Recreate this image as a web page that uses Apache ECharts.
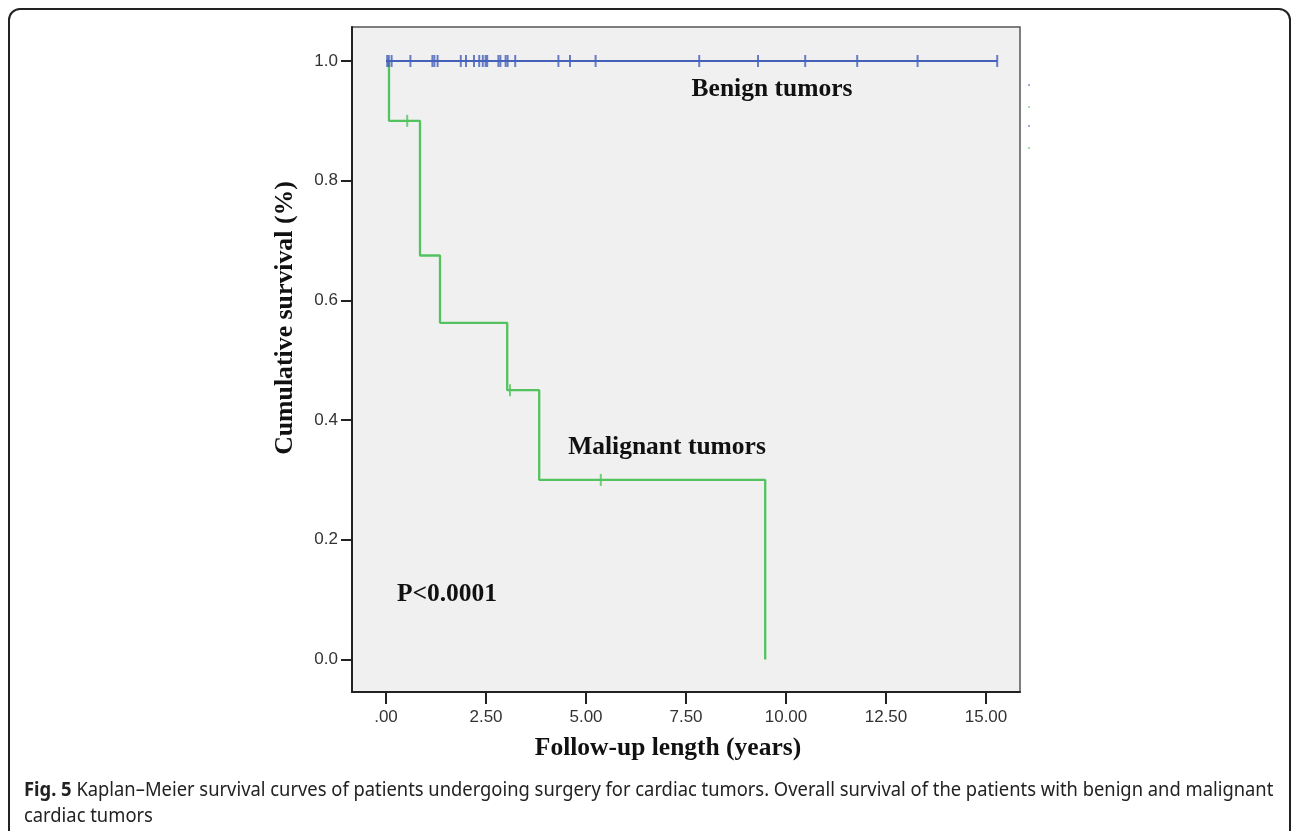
<!DOCTYPE html>
<html>
<head>
<meta charset="utf-8">
<script src="https://cdn.jsdelivr.net/npm/echarts@6/dist/echarts.min.js"></script>
<style>
html,body{margin:0;padding:0;background:#fff;}
#chart{width:1292px;height:831px;}
</style>
</head>
<body>
<div id="chart"></div>
<script>
// ---- data ----
const xTicks = [0, 2.5, 5, 7.5, 10, 12.5, 15];
const yTicks = [0, 0.2, 0.4, 0.6, 0.8, 1.0];
const benignCensorTimes = [0.03, 0.07, 0.14, 0.61, 1.16, 1.21, 1.29, 1.87, 2.0, 2.2, 2.33, 2.42, 2.49, 2.53, 2.81, 2.86, 2.99, 3.04, 3.23, 4.31, 4.6, 5.24, 7.83, 9.3, 10.48, 11.78, 13.29, 15.28];
const benignLineTimes = [0, 15.28];
const benignLineSurv = [1.0, 1.0];
const malignantTimes = [0, 0.075, 0.85, 1.35, 3.03, 3.83, 9.48];
const malignantSurv = [1.0, 0.9, 0.675, 0.5625, 0.45, 0.30, 0.0];
const malignantCensorTimes = [0.53, 3.1, 5.37];
const malignantCensorSurv = [0.9, 0.45, 0.30];

const BLUE = '#4560b8';
const GREEN = '#52c35e';
const SERIF = '"Liberation Serif", "Times New Roman", serif';

const chart = echarts.init(document.getElementById('chart'));

const fmtX = v => {
  const s = Number(v).toFixed(2);
  return s.startsWith('0') ? s.slice(1) : s;
};

chart.setOption({
  animation: false,
  grid: {
    left: 352, top: 27, width: 668, height: 665,
    show: true, backgroundColor: '#f0f0f0', borderColor: '#555', borderWidth: 1.5
  },
  xAxis: {
    type: 'value', min: -0.85, max: 15.85,
    splitLine: { show: false },
    axisLine: { onZero: false, lineStyle: { color: '#222', width: 2 } },
    axisTick: { customValues: xTicks, length: 12, lineStyle: { color: '#222', width: 2 } },
    axisLabel: { customValues: xTicks, formatter: fmtX, margin: 17, color: '#333', fontSize: 17, fontFamily: 'Liberation Sans, Arial, sans-serif' }
  },
  yAxis: {
    type: 'value', min: -0.0543, max: 1.0568,
    splitLine: { show: false },
    axisLine: { onZero: false, lineStyle: { color: '#222', width: 2 } },
    axisTick: { customValues: yTicks, length: 11, lineStyle: { color: '#222', width: 2 } },
    axisLabel: { customValues: yTicks, formatter: v => Number(v).toFixed(1), margin: 14, color: '#333', fontSize: 17, fontFamily: 'Liberation Sans, Arial, sans-serif' }
  },
  series: [
    {
      type: 'line', name: 'Benign', showSymbol: false,
      data: benignLineTimes.map((t, i) => [t, benignLineSurv[i]]),
      lineStyle: { color: BLUE, width: 2.2 }, z: 3
    },
    {
      type: 'scatter', name: 'Benign censored',
      data: benignCensorTimes.map(t => [t, 1.0]),
      symbol: 'rect', symbolSize: [2, 12],
      itemStyle: { color: BLUE }, z: 4
    },
    {
      type: 'line', name: 'Malignant', step: 'end', showSymbol: false,
      data: malignantTimes.map((t, i) => [t, malignantSurv[i]]),
      lineStyle: { color: GREEN, width: 2.3 }, z: 2
    },
    {
      type: 'scatter', name: 'Malignant censored',
      data: malignantCensorTimes.map((t, i) => [t, malignantCensorSurv[i]]),
      symbol: 'rect', symbolSize: [2, 12],
      itemStyle: { color: GREEN }, z: 4
    }
  ],
  graphic: [
    { type: 'rect', shape: { x: 9, y: 9, width: 1281, height: 860, r: 11 },
      style: { fill: 'none', stroke: '#222', lineWidth: 2 }, silent: true, z: 0 },
    // faint legend remnants to the right of the plot
    { type: 'circle', shape: { cx: 1029, cy: 85, r: 1 }, style: { fill: BLUE, opacity: 0.7 }, silent: true },
    { type: 'circle', shape: { cx: 1029, cy: 107, r: 1 }, style: { fill: GREEN, opacity: 0.7 }, silent: true },
    { type: 'circle', shape: { cx: 1029, cy: 126, r: 1 }, style: { fill: BLUE, opacity: 0.7 }, silent: true },
    { type: 'circle', shape: { cx: 1029, cy: 148, r: 1 }, style: { fill: GREEN, opacity: 0.7 }, silent: true },
    { type: 'text', x: 772, y: 89, style: { text: 'Benign tumors', align: 'center', verticalAlign: 'middle',
      font: 'bold 25.5px ' + SERIF, fill: '#111' }, z: 10 },
    { type: 'text', x: 667, y: 447, style: { text: 'Malignant tumors', align: 'center', verticalAlign: 'middle',
      font: 'bold 25.5px ' + SERIF, fill: '#111' }, z: 10 },
    { type: 'text', x: 447, y: 594, style: { text: 'P<0.0001', align: 'center', verticalAlign: 'middle',
      font: 'bold 25.5px ' + SERIF, fill: '#111' }, z: 10 },
    { type: 'text', x: 285, y: 318, rotation: Math.PI / 2, style: { text: 'Cumulative survival (%)', align: 'center', verticalAlign: 'middle',
      font: 'bold 25.8px ' + SERIF, fill: '#111' }, z: 10 },
    { type: 'text', x: 668, y: 748, style: { text: 'Follow-up length (years)', align: 'center', verticalAlign: 'middle',
      font: 'bold 25.5px ' + SERIF, fill: '#111' }, z: 10 },
    { type: 'text', x: 24, y: 790, scaleX: 0.918, style: {
      text: '{b|Fig. 5} Kaplan–Meier survival curves of patients undergoing surgery for cardiac tumors. Overall survival of the patients with benign and malignant',
      align: 'left', verticalAlign: 'middle',
      font: '20px "Noto Sans", sans-serif', fill: '#222',
      rich: { b: { fontWeight: 'bold', fontSize: 20, fontFamily: '"Noto Sans", sans-serif', fill: '#222' } }
    }, z: 10 },
    { type: 'text', x: 24, y: 816, scaleX: 0.918, style: { text: 'cardiac tumors', align: 'left', verticalAlign: 'middle',
      font: '20px "Noto Sans", sans-serif', fill: '#222' }, z: 10 }
  ]
});
</script>
</body>
</html>
